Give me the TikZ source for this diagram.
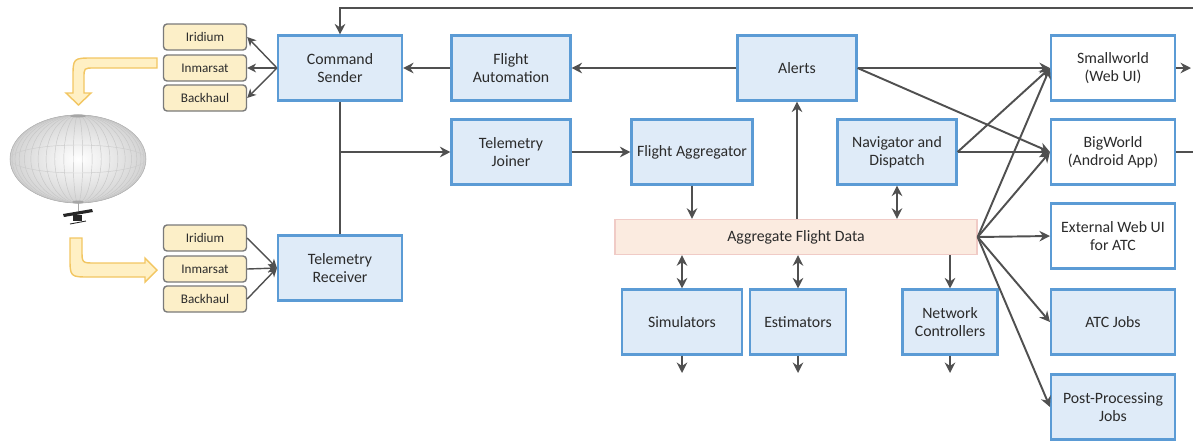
\documentclass[tikz,border=0pt]{standalone}
\usepackage{fontspec}
\setmainfont{Carlito}
\usetikzlibrary{arrows.meta}

\definecolor{boxblue}{HTML}{5B9BD5}
\definecolor{boxfill}{HTML}{DFEBF8}
\definecolor{linkfill}{HTML}{FCEFC8}
\definecolor{linkgray}{HTML}{7A7A7A}
\definecolor{datafill}{HTML}{FBEBE0}
\definecolor{databorder}{HTML}{F0CBC6}
\definecolor{arrowgray}{HTML}{505050}
\definecolor{textgray}{HTML}{2B2B2B}
\definecolor{bentfill}{HTML}{FFF0C4}
\definecolor{bentborder}{HTML}{F2C662}

\tikzset{
  box/.style={draw=boxblue, fill=boxfill, line width=1.2pt, align=center,
    minimum width=2.38cm, minimum height=1.3cm, inner sep=2pt, text=textgray,
    font=\fontsize{9}{10}\selectfont},
  widebox/.style={box, minimum width=2.48cm},
  webbox/.style={widebox, fill=white},
  linkbox/.style={draw=linkgray, fill=linkfill, rounded corners=2pt, line width=0.8pt,
    minimum width=1.66cm, minimum height=0.52cm, inner sep=1pt, text=textgray,
    font=\fontsize{7.5}{9}\selectfont},
  databox/.style={draw=databorder, fill=datafill, line width=0.8pt,
    minimum width=7.24cm, minimum height=0.7cm, text=textgray,
    font=\fontsize{9}{10}\selectfont},
  flow/.style={draw=arrowgray, line width=1.1pt, -{Stealth[length=6pt,width=6pt,inset=2pt]}},
  twoway/.style={flow, {Stealth[length=6pt,width=6pt,inset=2pt]}-{Stealth[length=6pt,width=6pt,inset=2pt]}},
  feed/.style={draw=arrowgray, line width=0.8pt, -{Stealth[length=5pt,width=5pt,inset=1.5pt]}},
  wire/.style={draw=arrowgray, line width=1.1pt},
  bent/.style={draw=bentborder, fill=bentfill, line width=0.8pt},
}

\begin{document}
\begin{tikzpicture}[x=0.02cm, y=-0.02cm]
\useasboundingbox (0,0) rectangle (1193,441);

% Balloon
\shade[inner color=white, outer color=gray!35] (78,159) ellipse [x radius=68, y radius=44];
\foreach \p in {-84,-76,...,84}
{
    \draw[gray!45, line width=0.25pt] plot[domain=-90:90, samples=25] ({78+68*sin(\p)*cos(\x)}, {159+44*sin(\x)});
}
\draw[gray!40, line width=0.25pt] (78,159) ellipse [x radius=68, y radius=14];
\draw[gray!60, line width=0.3pt] (78,159) ellipse [x radius=68, y radius=44];
\fill[gray!70] (78,116) ellipse [x radius=8, y radius=1.5];
\fill[gray!70] (78,202) ellipse [x radius=6, y radius=1.5];
\draw[gray!70, line width=0.4pt] (78,203) -- (78,212);
% payload
\fill[black!85] (63,214) -- (92,209) -- (93,212) -- (64,217) -- cycle;
\fill[black!85] (73,215) rectangle (82,221);
\draw[black!85, line width=0.5pt] (70,224) -- (86,221);

% Yellow uplink and downlink arrows
\filldraw[bent] (157,58) -- (93,58) .. controls (73,58) .. (73,78) -- (73,93) -- (66,93)
    -- (78.5,105) -- (91,93) -- (84,93) -- (84,78) .. controls (84,68) .. (94,68) -- (157,68) -- cycle;
\filldraw[bent] (70,238) -- (70,257) .. controls (70,277) .. (90,277) -- (145,277) -- (145,282)
    -- (157,270) -- (145,258) -- (145,263) -- (95,263) .. controls (82,263) .. (82,250) -- (82,238) -- cycle;

% Links
\foreach \name/\txt/\y in {ir/Iridium/37, in/Inmarsat/68, bh/Backhaul/98}
{
    \node[linkbox] (up\name) at (205,\y) {\txt};
}
\foreach \name/\txt/\y in {ir/Iridium/238, in/Inmarsat/269, bh/Backhaul/299}
{
    \node[linkbox] (down\name) at (205,\y) {\txt};
}

% Ground side
\node[widebox] (cs) at (340,68) {Command\\Sender};
\node[widebox] (tr) at (340,268) {Telemetry\\Receiver};
\node[box] (fa) at (511,68) {Flight\\Automation};
\node[box] (tj) at (511,152) {Telemetry\\Joiner};
\node[box, minimum width=2.42cm] (fagg) at (692,152) {Flight Aggregator};
\node[box] (al) at (797,68) {Alerts};
\node[box] (nav) at (897,152) {Navigator and\\Dispatch};
\node[databox] (afd) at (796,237) {Aggregate Flight Data};
\node[box, minimum width=2.4cm] (sim) at (682,322) {Simulators};
\node[box, minimum width=1.92cm] (est) at (798,322) {Estimators};
\node[box, minimum width=1.9cm] (nc) at (950,322) {Network\\Controllers};

% Consumers
\node[webbox] (sw) at (1113,68) {Smallworld\\(Web UI)};
\node[webbox] (bw) at (1113,152) {BigWorld\\(Android App)};
\node[webbox] (ext) at (1113,236) {External Web UI\\for ATC};
\node[widebox] (atc) at (1113,322) {ATC Jobs};
\node[widebox] (pp) at (1113,407) {Post-Processing\\Jobs};

% Free ends
\coordinate (loopin) at (1193,8);
\coordinate (swout) at (1191,68);
\coordinate (bwout) at (1193,152);
\coordinate (simout) at (682,373);
\coordinate (estout) at (798,373);
\coordinate (ncout) at (950,373);
\coordinate (split) at (cs.south |- tj.west);

% Command path
\foreach \name in {ir, in, bh}
{
    \draw[feed] (cs.west) -- (up\name.east);
    \draw[feed] (down\name.east) -- (tr.west);
}
\draw[flow] (loopin) -| (cs.north);
\draw[flow] (fa.west) -- (cs.east);
\draw[flow] (al.west) -- (fa.east);

% Telemetry path
\draw[wire] (tr.north) -- (cs.south);
\draw[flow] (split) -- (tj.west);
\draw[flow] (tj.east) -- (fagg.west);
\draw[flow] (fagg.south) -- (fagg.south |- afd.north);
\draw[flow] (al.south |- afd.north) -- (al.south);
\draw[twoway] (nav.south) -- (nav.south |- afd.north);
\draw[twoway] (sim.north |- afd.south) -- (sim.north);
\draw[twoway] (est.north |- afd.south) -- (est.north);
\draw[flow] (nc.north |- afd.south) -- (nc.north);
\draw[flow] (sim.south) -- (simout);
\draw[flow] (est.south) -- (estout);
\draw[flow] (nc.south) -- (ncout);

% Fan out to consumers
\draw[flow] (al.east) -- (sw.west);
\draw[flow] (al.east) -- (bw.west);
\draw[flow] (nav.east) -- (sw.west);
\draw[flow] (nav.east) -- (bw.west);
\foreach \dest in {sw, bw, ext, atc, pp}
{
    \draw[flow] (afd.east) -- (\dest.west);
}
\draw[flow] (sw.east) -- (swout);
\draw[wire] (bw.east) -- (bwout);

\end{tikzpicture}
\end{document}
